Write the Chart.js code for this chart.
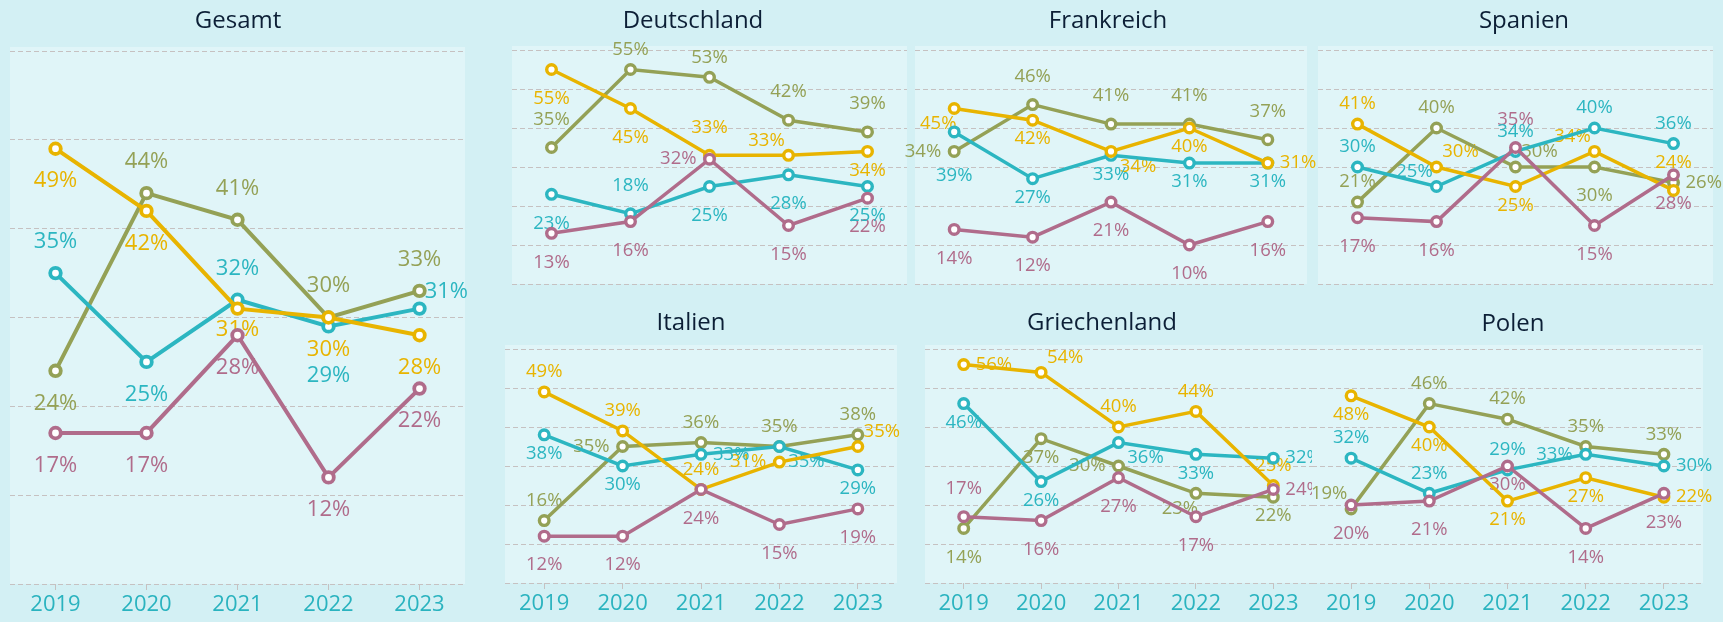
<!DOCTYPE html>
<html lang="de">
<head>
<meta charset="utf-8">
<title>Entwicklung 2019–2023</title>
<script src="https://cdn.jsdelivr.net/npm/chart.js@4.4.1/dist/chart.umd.min.js"></script>
<style>
	html, body { margin: 0; padding: 0; background: #d3f0f4; }
	body { width: 1723px; height: 622px; position: relative; overflow: hidden; }
	canvas { position: absolute; left: 0; top: 0; }
</style>
</head>
<body>
<script>
const years = ['2019', '2020', '2021', '2022', '2023'];

// Gesamt
const gesamtOlive = [24, 44, 41, 30, 33];
const gesamtTeal = [35, 25, 32, 29, 31];
const gesamtYellow = [49, 42, 31, 30, 28];
const gesamtMauve = [17, 17, 28, 12, 22];

// Deutschland
const deOlive = [35, 55, 53, 42, 39];
const deTeal = [23, 18, 25, 28, 25];
const deYellow = [55, 45, 33, 33, 34];
const deMauve = [13, 16, 32, 15, 22];

// Frankreich
const frOlive = [34, 46, 41, 41, 37];
const frTeal = [39, 27, 33, 31, 31];
const frYellow = [45, 42, 34, 40, 31];
const frMauve = [14, 12, 21, 10, 16];

// Spanien
const esOlive = [21, 40, 30, 30, 26];
const esTeal = [30, 25, 34, 40, 36];
const esYellow = [41, 30, 25, 34, 24];
const esMauve = [17, 16, 35, 15, 28];

// Italien
const itOlive = [16, 35, 36, 35, 38];
const itTeal = [38, 30, 33, 35, 29];
const itYellow = [49, 39, 24, 31, 35];
const itMauve = [12, 12, 24, 15, 19];

// Griechenland
const grOlive = [14, 37, 30, 23, 22];
const grTeal = [46, 26, 36, 33, 32];
const grYellow = [56, 54, 40, 44, 25];
const grMauve = [17, 16, 27, 17, 24];

// Polen
const plOlive = [19, 46, 42, 35, 33];
const plTeal = [32, 23, 29, 33, 30];
const plYellow = [48, 40, 21, 27, 22];
const plMauve = [20, 21, 30, 14, 23];

const OLIVE = '#94a156';
const TEAL = '#2cb6c1';
const YELLOW = '#e8b400';
const MAUVE = '#b06c8b';
const GRID = '#c6c1c1';
const FONT = "'Open Sans', 'Noto Sans', sans-serif";

const W = 1723, H = 622;

// where each value label sits relative to its point (centre offsets)
const OFFSETS = {
	a: [0, -20], A: [0, -28], b: [0, 19], B: [0, 29], V: [0, 44],
	r: [31, 0], l: [-33, 0],
	ar: [24, -15], al: [-22, -15], br: [27, 15], bl: [-16, 15],
};

// panel boxes: plot area [left, top, right, bottom], title centre
const panels = [
	{
		title: 'Gesamt', area: [10, 51, 465, 584], titleX: 238, titleY: 21, years: true, big: true,
		series: [
			{ data: gesamtMauve, color: MAUVE, pos: ['B', 'B', 'B', 'B', 'B'] },
			{ data: gesamtYellow, color: YELLOW, pos: ['B', 'B', 'b', 'B', 'B'] },
			{ data: gesamtTeal, color: TEAL, pos: ['A', 'B', 'A', 'V', 'ar'] },
			{ data: gesamtOlive, color: OLIVE, pos: ['B', 'A', 'A', 'A', 'A'] },
		],
	},
	{
		title: 'Deutschland', area: [512, 50, 907, 284], titleX: 693, titleY: 21, years: false,
		series: [
			{ data: deMauve, color: MAUVE, pos: ['B', 'B', 'l', 'B', 'B'] },
			{ data: deYellow, color: YELLOW, pos: ['B', 'B', 'A', 'al', 'b'] },
			{ data: deTeal, color: TEAL, pos: ['B', 'A', 'B', 'B', 'B'] },
			{ data: deOlive, color: OLIVE, pos: ['A', 'a', 'a', 'A', 'A'] },
		],
	},
	{
		title: 'Frankreich', area: [915, 50, 1307, 284], titleX: 1108, titleY: 21, years: false,
		series: [
			{ data: frMauve, color: MAUVE, pos: ['B', 'B', 'B', 'B', 'B'] },
			{ data: frYellow, color: YELLOW, pos: ['bl', 'b', 'br', 'b', 'r'] },
			{ data: frTeal, color: TEAL, pos: ['V', 'b', 'b', 'b', 'b'] },
			{ data: frOlive, color: OLIVE, pos: ['l', 'A', 'A', 'A', 'A'] },
		],
	},
	{
		title: 'Spanien', area: [1318, 50, 1713, 284], titleX: 1524, titleY: 21, years: false,
		series: [
			{ data: esMauve, color: MAUVE, pos: ['B', 'B', 'A', 'B', 'B'] },
			{ data: esYellow, color: YELLOW, pos: ['a', 'ar', 'b', 'al', 'A'] },
			{ data: esTeal, color: TEAL, pos: ['a', 'al', 'a', 'a', 'a'] },
			{ data: esOlive, color: OLIVE, pos: ['a', 'a', 'ar', 'B', 'r'] },
		],
	},
	{
		title: 'Italien', area: [505, 349, 897, 583], titleX: 691, titleY: 323, years: true,
		series: [
			{ data: itMauve, color: MAUVE, pos: ['B', 'B', 'B', 'B', 'B'] },
			{ data: itYellow, color: YELLOW, pos: ['a', 'a', 'a', 'l', 'ar'] },
			{ data: itTeal, color: TEAL, pos: ['b', 'b', 'r', 'br', 'b'] },
			{ data: itOlive, color: OLIVE, pos: ['a', 'l', 'a', 'a', 'a'] },
		],
	},
	{
		title: 'Griechenland', area: [925, 349, 1312, 583], titleX: 1102, titleY: 323, years: true,
		series: [
			{ data: grMauve, color: MAUVE, pos: ['A', 'B', 'B', 'B', 'r'] },
			{ data: grYellow, color: YELLOW, pos: ['r', 'ar', 'a', 'a', 'a'] },
			{ data: grTeal, color: TEAL, pos: ['b', 'b', 'br', 'b', 'r'] },
			{ data: grOlive, color: OLIVE, pos: ['B', 'b', 'l', 'bl', 'b'] },
		],
	},
	{
		title: 'Polen', area: [1312, 349, 1703, 583], titleX: 1513, titleY: 324, years: true,
		series: [
			{ data: plMauve, color: MAUVE, pos: ['B', 'B', 'b', 'B', 'B'] },
			{ data: plYellow, color: YELLOW, pos: ['b', 'b', 'b', 'b', 'r'] },
			{ data: plTeal, color: TEAL, pos: ['a', 'a', 'a', 'l', 'r'] },
			{ data: plOlive, color: OLIVE, pos: ['al', 'a', 'a', 'a', 'a'] },
		],
	},
];

// light fill behind each plot area
const panelFill = {
	id: 'panelFill',
	beforeDraw(chart) {
		const { left, top, right, bottom } = chart.chartArea;
		const ctx = chart.ctx;
		ctx.save();
		ctx.fillStyle = '#e0f5f8';
		ctx.fillRect(left, top - 4, right - left, bottom - top + 4);
		ctx.restore();
	},
};

// "xx%" labels next to the points, drawn under the lines
const pointLabels = {
	id: 'pointLabels',
	beforeDatasetsDraw(chart, args, opts) {
		const ctx = chart.ctx;
		ctx.save();
		ctx.font = opts.size + 'px ' + FONT;
		chart.data.datasets.forEach((ds, i) => {
			const meta = chart.getDatasetMeta(i);
			meta.data.forEach((pt, j) => {
				const code = ds.labelPos[j];
				const off = OFFSETS[code];
				ctx.fillStyle = ds.borderColor;
				ctx.textBaseline = 'middle';
				ctx.textAlign = 'center';
				let x = pt.x + off[0] * opts.scale;
				const y = pt.y + off[1] * opts.scale;
				if (code === 'r') {
					ctx.textAlign = 'left';
					x = pt.x + 12 * opts.scale;
				} else if (code === 'l') {
					ctx.textAlign = 'right';
					x = pt.x - 13 * opts.scale;
				}
				ctx.fillText(ds.data[j] + '%', x, y);
			});
		});
		ctx.restore();
	},
};

Chart.defaults.font.family = FONT;

function drawPanel(p) {
	const canvas = document.createElement('canvas');
	canvas.width = W;
	canvas.height = H;
	document.body.appendChild(canvas);

	const [left, top, right, bottom] = p.area;
	const titleSize = 24;
	const titleH = titleSize * 1.2;
	const padTop = p.titleY - titleH / 2;
	const titleGap = top - padTop - titleH;
	const xHeight = p.years ? 30 : 0;
	const padBottom = H - bottom - xHeight;

	// the title is centred on the padded box, the side axes push the plot area
	let padLeft, padRight, leftW, rightW;
	if (2 * p.titleX <= left + right) {
		padRight = W - right;
		rightW = 0;
		padLeft = 2 * p.titleX - right;
		leftW = left - padLeft;
	} else {
		padLeft = left;
		leftW = 0;
		padRight = W - (2 * p.titleX - left);
		rightW = 2 * p.titleX - left - right;
	}

	const big = !!p.big;

	new Chart(canvas, {
		type: 'line',
		data: {
			labels: years,
			datasets: p.series.map(s => ({
				data: s.data,
				labelPos: s.pos,
				borderColor: s.color,
				backgroundColor: s.color,
				borderWidth: big ? 4 : 3.5,
				pointRadius: big ? 5.3 : 4.8,
				pointBorderWidth: big ? 3.8 : 3.4,
				pointBackgroundColor: '#ffffff',
				pointBorderColor: s.color,
				tension: 0,
				fill: false,
			})),
		},
		options: {
			responsive: false,
			animation: false,
			events: [],
			layout: {
				autoPadding: false,
				padding: { left: padLeft, right: padRight, top: padTop, bottom: padBottom },
			},
			plugins: {
				legend: { display: false },
				tooltip: { enabled: false },
				title: {
					display: true,
					text: p.title,
					color: '#0c1f36',
					font: { size: titleSize, weight: '500', lineHeight: 1.2 },
					padding: { top: 0, bottom: titleGap },
				},
				pointLabels: { size: big ? 22 : 18.5, scale: big ? 1.12 : 1 },
			},
			scales: {
				x: {
					display: p.years,
					offset: true,
					afterFit(scale) { scale.height = xHeight; },
					border: { display: false },
					grid: { display: true, drawOnChartArea: false, drawTicks: true, tickLength: 6, color: GRID },
					ticks: { color: '#2ab3bf', font: { size: 22 }, padding: 2 },
				},
				y: {
					position: 'left',
					min: 0,
					max: 60,
					afterFit(scale) { scale.width = leftW; },
					border: { display: false, dash: [5, 3] },
					grid: { color: GRID, lineWidth: 1, drawTicks: false },
					ticks: { display: false, stepSize: 10 },
				},
				yRight: {
					position: 'right',
					min: 0,
					max: 60,
					afterFit(scale) { scale.width = rightW; },
					border: { display: false },
					grid: { display: false, drawTicks: false },
					ticks: { display: false },
				},
			},
		},
		plugins: [panelFill, pointLabels],
	});
}

panels.forEach(drawPanel);
</script>
</body>
</html>
